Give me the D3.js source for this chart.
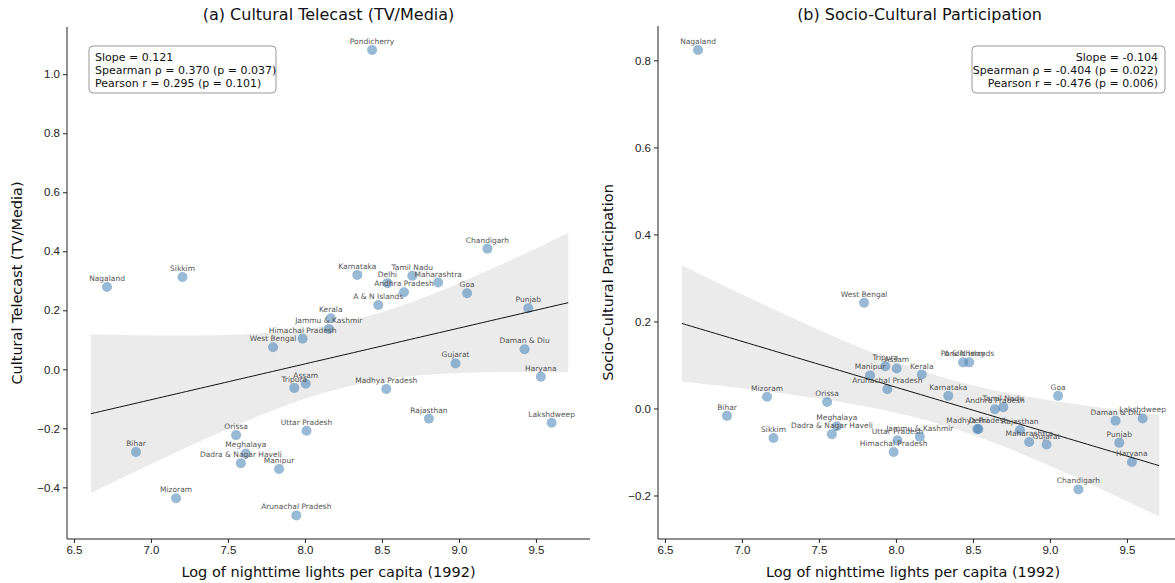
<!DOCTYPE html>
<html>
<head>
<meta charset="utf-8">
<script src="https://cdn.jsdelivr.net/npm/d3@7"></script>
<style>
  body { margin: 0; background: #fff; }
  svg { font-family: 'DejaVu Sans', sans-serif; }
  .axis path, .axis line { stroke: #222; stroke-width: 1; }
  .axis text { font-size: 11.5px; fill: #222; }
  .lbl { font-size: 7.5px; fill: #555; text-anchor: middle; }
</style>
</head>
<body>
<svg id="chart" width="1175" height="583"></svg>
<script>
// states, in the same order for every array below
const states = ['Nagaland', 'Sikkim', 'Pondicherry', 'Chandigarh', 'Karnataka', 'Delhi', 'Tamil Nadu',
  'Maharashtra', 'Andhra Pradesh', 'Goa', 'A & N Islands', 'Punjab', 'Kerala', 'Jammu & Kashmir',
  'Himachal Pradesh', 'West Bengal', 'Daman & Diu', 'Gujarat', 'Haryana', 'Assam', 'Tripura',
  'Madhya Pradesh', 'Rajasthan', 'Lakshdweep', 'Uttar Pradesh', 'Orissa', 'Bihar', 'Meghalaya',
  'Dadra & Nagar Haveli', 'Manipur', 'Mizoram', 'Arunachal Pradesh']

// log of nighttime lights per capita (1992)
const nightLights = [6.715, 7.205, 8.436, 9.185, 8.34, 8.536, 8.697,
  8.865, 8.643, 9.053, 8.476, 9.45, 8.168, 8.155,
  7.985, 7.793, 9.426, 8.978, 9.532, 8.005, 7.931,
  8.528, 8.805, 9.602, 8.01, 7.553, 6.903, 7.616,
  7.584, 7.832, 7.163, 7.944]

// panel (a)
const telecast = [0.279, 0.313, 1.082, 0.409, 0.320, 0.292, 0.317,
  0.294, 0.261, 0.258, 0.218, 0.207, 0.173, 0.137,
  0.104, 0.075, 0.068, 0.020, -0.025, -0.049, -0.063,
  -0.067, -0.167, -0.181, -0.208, -0.223, -0.280, -0.285,
  -0.318, -0.338, -0.437, -0.495]

// panel (b)
const participation = [0.824, -0.068, 0.106, -0.186, 0.029, -0.047, 0.003,
  -0.077, -0.002, 0.029, 0.106, -0.079, 0.078, -0.065,
  -0.100, 0.243, -0.028, -0.083, -0.123, 0.092, 0.097,
  -0.047, -0.050, -0.023, -0.073, 0.015, -0.017, -0.041,
  -0.059, 0.076, 0.027, 0.044]

const xTicks = [6.5, 7.0, 7.5, 8.0, 8.5, 9.0, 9.5]
const telecastTicks = [-0.4, -0.2, 0.0, 0.2, 0.4, 0.6, 0.8, 1.0]
const participationTicks = [-0.2, 0.0, 0.2, 0.4, 0.6, 0.8]
const statsA = ['Slope = 0.121', 'Spearman ρ = 0.370 (p = 0.037)', 'Pearson r = 0.295 (p = 0.101)']
const statsB = ['Slope = -0.104', 'Spearman ρ = -0.404 (p = 0.022)', 'Pearson r = -0.476 (p = 0.006)']
const fitRange = [6.61, 9.71]

const svg = d3.select('#chart')
const fmt = d3.format('.1f')

// ordinary least squares with a 95% band for the mean
const fitLine = (xs, ys) => {
  const n = xs.length
  const mx = d3.mean(xs)
  const my = d3.mean(ys)
  let sxx = 0
  let sxy = 0
  xs.forEach((x, i) => { sxx += (x - mx) ** 2; sxy += (x - mx) * (ys[i] - my) })
  const b = sxy / sxx
  const a = my - b * mx
  let sse = 0
  xs.forEach((x, i) => { sse += (ys[i] - a - b * x) ** 2 })
  const s = Math.sqrt(sse / (n - 2))
  const t = 2.042
  return d3.range(0, 101).map((k) => {
    const x = fitRange[0] + (fitRange[1] - fitRange[0]) * k / 100
    const y = a + b * x
    const h = t * s * Math.sqrt(1 / n + (x - mx) ** 2 / sxx)
    return { x, y, lo: y - h, hi: y + h }
  })
}

const drawPanel = (opts) => {
  const { left, right, top, bottom, yDomain, ys, yTicks, title, yLabel, stats, statsAlign } = opts

  const x = d3.scaleLinear().domain([6.455, 9.851]).range([left, right])
  const y = d3.scaleLinear().domain(yDomain).range([bottom, top])

  const g = svg.append('g')
  const fit = fitLine(nightLights, ys)

  g.append('path')
    .datum(fit)
    .attr('fill', '#ebebeb')
    .attr('d', d3.area().x(d => x(d.x)).y0(d => y(d.lo)).y1(d => y(d.hi)))

  const pts = states.map((s, i) => ({ name: s, x: nightLights[i], y: ys[i] }))

  g.selectAll('.dot')
    .data(pts)
    .enter().append('circle')
    .attr('class', 'dot')
    .attr('cx', d => x(d.x))
    .attr('cy', d => y(d.y))
    .attr('r', 5)
    .attr('fill', '#4682b4')
    .attr('fill-opacity', 0.55)

  g.append('path')
    .datum(fit)
    .attr('fill', 'none')
    .attr('stroke', '#111')
    .attr('stroke-width', 1)
    .attr('d', d3.line().x(d => x(d.x)).y(d => y(d.y)))

  g.selectAll('.lbl')
    .data(pts)
    .enter().append('text')
    .attr('class', 'lbl')
    .attr('x', d => x(d.x))
    .attr('y', d => y(d.y) - 6)
    .text(d => d.name)

  // axes
  g.append('g')
    .attr('class', 'axis')
    .attr('transform', `translate(0,${bottom})`)
    .call(d3.axisBottom(x).tickValues(xTicks).tickFormat(fmt).tickSize(4).tickPadding(3))
    .call(a => a.select('.domain').attr('d', `M${left},0H${right}`))

  g.append('g')
    .attr('class', 'axis')
    .attr('transform', `translate(${left},0)`)
    .call(d3.axisLeft(y).tickValues(yTicks).tickFormat(fmt).tickSize(4).tickPadding(3))
    .call(a => a.select('.domain').attr('d', `M0,${top}V${bottom}`))

  const cx = (left + right) / 2
  g.append('text')
    .attr('x', cx)
    .attr('y', 20)
    .attr('text-anchor', 'middle')
    .attr('font-size', 16)
    .attr('fill', '#111')
    .text(title)

  g.append('text')
    .attr('x', Math.min(cx, (left + 1168) / 2))
    .attr('y', 577)
    .attr('text-anchor', 'middle')
    .attr('font-size', 14.5)
    .attr('fill', '#111')
    .text('Log of nighttime lights per capita (1992)')

  g.append('text')
    .attr('transform', `translate(${left - 45},${(top + bottom) / 2}) rotate(-90)`)
    .attr('text-anchor', 'middle')
    .attr('font-size', 14.5)
    .attr('fill', '#111')
    .text(yLabel)

  // stats box
  const box = g.append('g')
  const bx = statsAlign === 'start' ? left + 22 : 1165 - 193
  box.append('rect')
    .attr('x', bx)
    .attr('y', 46)
    .attr('width', statsAlign === 'start' ? 187 : 193)
    .attr('height', 47)
    .attr('rx', 4)
    .attr('fill', '#fff')
    .attr('stroke', '#999')
  box.selectAll('text')
    .data(stats)
    .enter().append('text')
    .attr('x', statsAlign === 'start' ? bx + 6 : 1158)
    .attr('y', (d, i) => 61 + i * 13)
    .attr('text-anchor', statsAlign)
    .attr('font-size', 11)
    .attr('fill', '#111')
    .text(d => d)
}

drawPanel({
  left: 67, right: 590, top: 27, bottom: 539,
  yDomain: [-0.575, 1.160], ys: telecast, yTicks: telecastTicks,
  title: '(a) Cultural Telecast (TV/Media)', yLabel: 'Cultural Telecast (TV/Media)',
  stats: statsA, statsAlign: 'start'
})

drawPanel({
  left: 658, right: 1181, top: 26, bottom: 539,
  yDomain: [-0.300, 0.879], ys: participation, yTicks: participationTicks,
  title: '(b) Socio-Cultural Participation', yLabel: 'Socio-Cultural Participation',
  stats: statsB, statsAlign: 'end'
})
</script>
</body>
</html>
